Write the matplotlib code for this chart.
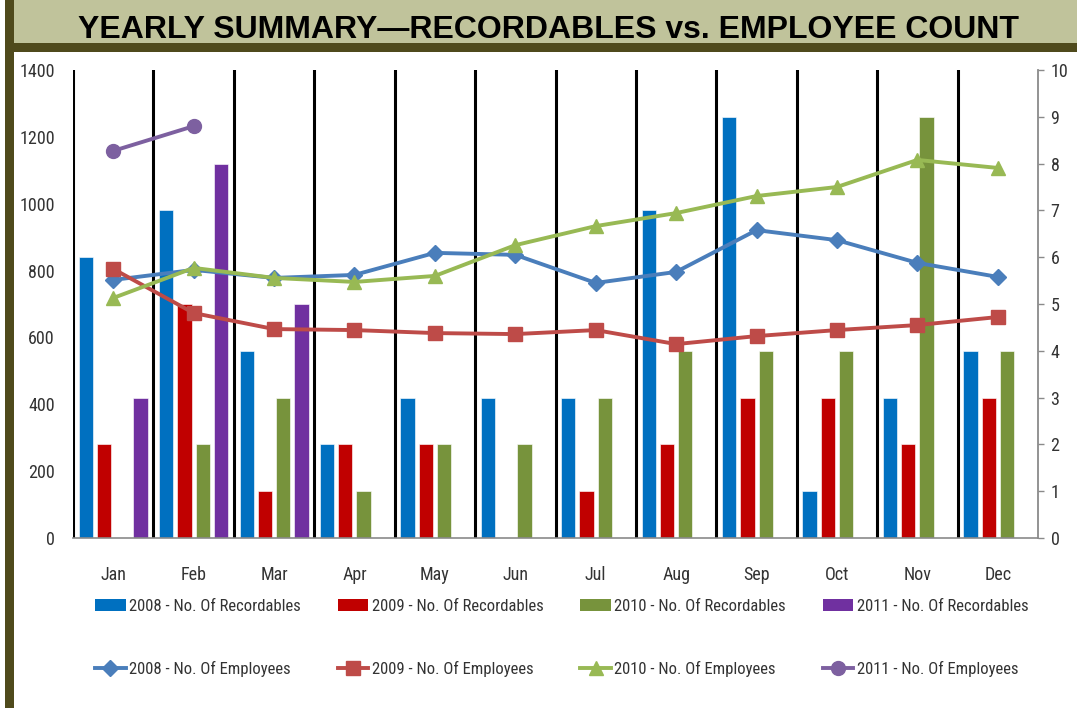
import numpy as np
import matplotlib
matplotlib.use("Agg")
import matplotlib.pyplot as plt
from matplotlib.patches import Rectangle, Patch
from matplotlib.lines import Line2D

plt.rcParams['font.family'] = ['Roboto Condensed', 'Lato', 'DejaVu Sans']

months = ['Jan', 'Feb', 'Mar', 'Apr', 'May', 'Jun', 'Jul', 'Aug', 'Sep', 'Oct', 'Nov', 'Dec']

rec_2008 = [6, 7, 4, 2, 3, 3, 3, 7, 9, 1, 3, 4]
rec_2009 = [2, 5, 1, 2, 2, 0, 1, 2, 3, 3, 2, 3]
rec_2010 = [0, 2, 3, 1, 2, 2, 3, 4, 4, 4, 9, 4]
rec_2011 = [3, 8, 5, None, None, None, None, None, None, None, None, None]

emp_2008 = [772, 802, 778, 787, 853, 847, 763, 796, 921, 891, 823, 781]
emp_2009 = [805, 673, 625, 622, 613, 610, 622, 580, 604, 622, 637, 661]
emp_2010 = [718, 808, 778, 766, 784, 876, 933, 972, 1023, 1050, 1131, 1107]
emp_2011 = [1158, 1232, None, None, None, None, None, None, None, None, None, None]

rec_labels = ['2008 - No. Of Recordables', '2009 - No. Of Recordables',
              '2010 - No. Of Recordables', '2011 - No. Of Recordables']
emp_labels = ['2008 - No. Of Employees', '2009 - No. Of Employees',
              '2010 - No. Of Employees', '2011 - No. Of Employees']

bar_colors = ['#0070c0', '#c00000', '#77933c', '#7030a0']
line_colors = ['#4a7ebb', '#be4b48', '#98b954', '#7d60a0']
markers = ['D', 's', '^', 'o']
msizes = [8, 9.5, 9.5, 10]

def arr(v):
    return np.array([np.nan if a is None else a for a in v], dtype=float)

W, H = 1077, 708
fig = plt.figure(figsize=(W / 100, H / 100), dpi=100)

# decorations: title band, dark rule, left strip
fig.patches.append(Rectangle((14 / W, 1 - 43 / H), 1, 43 / H, transform=fig.transFigure,
                             facecolor='#c0c39b', edgecolor='none', zorder=0))
fig.patches.append(Rectangle((5 / W, 1 - 52 / H), 1, 9 / H, transform=fig.transFigure,
                             facecolor='#4f4a1c', edgecolor='none', zorder=1))
fig.patches.append(Rectangle((5 / W, 0), 9 / W, 1, transform=fig.transFigure,
                             facecolor='#4f4a1c', edgecolor='none', zorder=1))

fig.text(549 / W, 1 - 38 / H, 'YEARLY SUMMARY\u2014RECORDABLES vs. EMPLOYEE COUNT',
         ha='center', va='baseline', fontsize=23, fontweight='bold',
         family=['Liberation Sans', 'DejaVu Sans'], color='black')

ax = fig.add_axes([73 / W, 1 - 538 / H, (1038 - 73) / W, (538 - 70) / H])
x = np.arange(len(months))
step = 0.227
width = 0.178
offs = [-1.5, -0.5, 0.5, 1.5]
for vals, col, lab, o in zip([rec_2008, rec_2009, rec_2010, rec_2011], bar_colors, rec_labels, offs):
    ax.bar(x + o * step, arr(vals), width, color=col, edgecolor=(1, 1, 1, 0.6),
           linewidth=0.7, label=lab, zorder=2)

ax.set_xlim(-0.5, len(months) - 0.5)
ax.set_ylim(0, 10)
ax.set_yticks(range(0, 11))
for b in x[:] - 0.5:
    ax.axvline(b, color='black', lw=2.2, zorder=1)

ax2 = ax.twinx()
for vals, col, lab, m, ms in zip([emp_2008, emp_2009, emp_2010, emp_2011], line_colors, emp_labels, markers, msizes):
    ax2.plot(x, arr(vals), color=col, lw=2.8, marker=m, markersize=ms, label=lab,
             markeredgecolor=col, zorder=3)
ax2.set_ylim(0, 1400)
ax2.set_yticks(range(0, 1401, 200))

ax.yaxis.tick_right()
ax2.yaxis.tick_left()

for a in (ax, ax2):
    for s in ('top', 'left', 'right', 'bottom'):
        a.spines[s].set_visible(False)
ax.spines['bottom'].set_visible(True)
ax.spines['bottom'].set_color('#8a8a8a')
ax.spines['bottom'].set_linewidth(1.2)
ax.spines['right'].set_visible(True)
ax.spines['right'].set_color('#8a8a8a')
ax.spines['right'].set_linewidth(1.3)

ax.set_xticks(x, months)
ax.tick_params(axis='x', length=0, pad=20, labelsize=13, labelcolor='#333333')
ax.tick_params(axis='y', direction='out', length=4, width=1, color='#8a8a8a',
               pad=5, labelsize=13, labelcolor='#333333')
ax2.tick_params(axis='y', length=0, pad=13, labelsize=13, labelcolor='#333333')
ax2.tick_params(axis='x', length=0)

# legend: row 1 bars, row 2 lines
handles, labels = [], []
for i in range(4):
    handles.append(Patch(facecolor=bar_colors[i], edgecolor='none'))
    labels.append(rec_labels[i])
    handles.append(Line2D([], [], color=line_colors[i], lw=2.8, marker=markers[i],
                          markersize=msizes[i]))
    labels.append(emp_labels[i])
fig.legend(handles, labels, ncol=4, loc='upper left', bbox_to_anchor=(95 / W, 1 - 599 / H),
           frameon=False, fontsize=12, handlelength=1.85, handletextpad=0.2,
           columnspacing=2.2, labelspacing=2.82, borderpad=0, borderaxespad=0,
           numpoints=1, labelcolor='#333333')

fig.savefig('out.png', dpi=100)
